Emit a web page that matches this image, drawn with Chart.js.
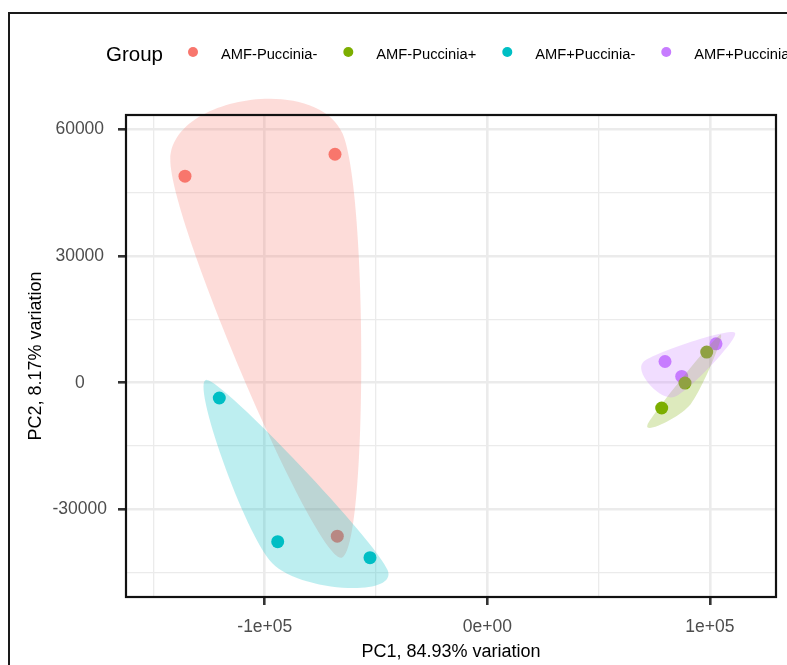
<!DOCTYPE html>
<html>
<head>
<meta charset="utf-8">
<script src="https://cdn.jsdelivr.net/npm/chart.js@4.4.1/dist/chart.umd.min.js"></script>
<style>
  html, body { margin: 0; padding: 0; background: #ffffff; overflow: hidden; }
  #wrap { position: relative; width: 787px; height: 665px; }
  #pca { position: absolute; left: 0; top: 0; }
  #frame { position: absolute; left: 8px; top: 12px; width: 900px; height: 800px;
           border-left: 2px solid #1a1a1a; border-top: 2px solid #1a1a1a; pointer-events: none; }
</style>
</head>
<body>
<div id="wrap">
  <canvas id="pca" width="787" height="665"></canvas>
  <div id="frame"></div>
</div>
<script>
// Groups and their colours
const groups = ['AMF-Puccinia-', 'AMF-Puccinia+', 'AMF+Puccinia-', 'AMF+Puccinia+'];
const groupColors = ['#F8766D', '#7CAE00', '#00BFC4', '#C77CFF'];
const legendTitle = 'Group';

// PCA scores per group (PC1, PC2)
const pc1AmfMinusPucMinus = [-135870, -68450, -67420];
const pc2AmfMinusPucMinus = [48900, 54090, -36310];

const pc1AmfMinusPucPlus = [78380, 88850, 98610];
const pc2AmfMinusPucPlus = [-5980, -70, 7250];

const pc1AmfPlusPucMinus = [-120450, -94200, -52720];
const pc2AmfPlusPucMinus = [-3610, -37630, -41410];

const pc1AmfPlusPucPlus = [79870, 87370, 102790];
const pc2AmfPlusPucPlus = [5030, 1490, 9210];

// Axis titles, ranges and ticks
const xTitle = 'PC1, 84.93% variation';
const yTitle = 'PC2, 8.17% variation';
const xRange = [-162380, 129750];
const yRange = [-50720, 63380];
const xMajorTicks = [-100000, 0, 100000];
const xTickLabels = ['-1e+05', '0e+00', '1e+05'];
const xMinorTicks = [-150000, -50000, 50000];
const yMajorTicks = [-30000, 0, 30000, 60000];
const yTickLabels = ['-30000', '0', '30000', '60000'];
const yMinorTicks = [-45000, -15000, 15000, 45000];

const pc1Series = [pc1AmfMinusPucMinus, pc1AmfMinusPucPlus, pc1AmfPlusPucMinus, pc1AmfPlusPucPlus];
const pc2Series = [pc2AmfMinusPucMinus, pc2AmfMinusPucPlus, pc2AmfPlusPucMinus, pc2AmfPlusPucPlus];

const FONT = "'Liberation Sans', Arial, Helvetica, sans-serif";

function hexToRgba(hex, a) {
  const n = parseInt(hex.slice(1), 16);
  return `rgba(${(n >> 16) & 255},${(n >> 8) & 255},${n & 255},${a})`;
}

const datasets = groups.map((g, i) => ({
  label: g,
  data: pc1Series[i].map((x, j) => ({ x: x, y: pc2Series[i][j] })),
  backgroundColor: groupColors[i],
  borderWidth: 0,
  pointRadius: 6.5,
  pointHoverRadius: 6.5
}));

// Convex hull (monotone chain) of pixel points
function convexHull(pts) {
  const p = pts.slice().sort((a, b) => a.x - b.x || a.y - b.y);
  if (p.length < 3) return p;
  const cross = (o, a, b) => (a.x - o.x) * (b.y - o.y) - (a.y - o.y) * (b.x - o.x);
  const lower = [];
  for (const q of p) {
    while (lower.length >= 2 && cross(lower[lower.length - 2], lower[lower.length - 1], q) <= 0) lower.pop();
    lower.push(q);
  }
  const upper = [];
  for (let i = p.length - 1; i >= 0; i--) {
    const q = p[i];
    while (upper.length >= 2 && cross(upper[upper.length - 2], upper[upper.length - 1], q) <= 0) upper.pop();
    upper.push(q);
  }
  upper.pop(); lower.pop();
  return lower.concat(upper);
}

// Smoothed, expanded outline around each group's points, then the panel border
const encirclePlugin = {
  id: 'encircle',
  afterDatasetsDraw(chart) {
    const ctx = chart.ctx;
    const expand = 22;     // px pushed outward from the group centre
    const k = 0.15;        // spline handle factor
    chart.data.datasets.forEach((ds, i) => {
      const meta = chart.getDatasetMeta(i);
      const pts = meta.data.map(el => ({ x: el.x, y: el.y }));
      const cx = pts.reduce((s, p) => s + p.x, 0) / pts.length;
      const cy = pts.reduce((s, p) => s + p.y, 0) / pts.length;
      const hull = convexHull(pts).map(p => {
        const dx = p.x - cx, dy = p.y - cy;
        const r = Math.hypot(dx, dy) || 1;
        return { x: p.x + expand * dx / r, y: p.y + expand * dy / r };
      });
      const n = hull.length;
      ctx.save();
      ctx.beginPath();
      ctx.moveTo(hull[0].x, hull[0].y);
      for (let j = 0; j < n; j++) {
        const p0 = hull[(j - 1 + n) % n], p1 = hull[j], p2 = hull[(j + 1) % n], p3 = hull[(j + 2) % n];
        ctx.bezierCurveTo(
          p1.x + k * (p2.x - p0.x), p1.y + k * (p2.y - p0.y),
          p2.x - k * (p3.x - p1.x), p2.y - k * (p3.y - p1.y),
          p2.x, p2.y);
      }
      ctx.closePath();
      ctx.fillStyle = hexToRgba(groupColors[i], 0.26);
      ctx.fill();
      ctx.restore();
    });
    const a = chart.chartArea;
    ctx.save();
    ctx.strokeStyle = '#111111';
    ctx.lineWidth = 2.2;
    ctx.strokeRect(a.left, a.top, a.right - a.left, a.bottom - a.top);
    ctx.restore();
  },
  afterDraw(chart) {
    const ctx = chart.ctx;
    ctx.save();
    ctx.fillStyle = '#000000';
    ctx.textBaseline = 'alphabetic';
    ctx.font = `20.5px ${FONT}`;
    ctx.fillText(legendTitle, 106, 61);
    let x = 193;
    ctx.font = `14.7px ${FONT}`;
    chart.data.datasets.forEach(ds => {
      ctx.beginPath();
      ctx.arc(x, 52, 5, 0, Math.PI * 2);
      ctx.fillStyle = ds.backgroundColor;
      ctx.fill();
      ctx.fillStyle = '#000000';
      ctx.fillText(ds.label, x + 28, 59);
      x += 28 + ctx.measureText(ds.label).width + 31;
    });
    ctx.restore();
  }
};

function gridFor(majors) {
  return {
    color: '#EBEBEB',
    lineWidth: c => (c.tick && majors.includes(c.tick.value)) ? 2.6 : 1.3,
    drawTicks: true,
    tickLength: 8,
    tickWidth: 2.6,
    tickColor: c => (c.tick && majors.includes(c.tick.value)) ? '#333333' : 'rgba(0,0,0,0)'
  };
}

new Chart(document.getElementById('pca'), {
  type: 'scatter',
  data: { datasets: datasets },
  options: {
    responsive: false,
    animation: false,
    devicePixelRatio: 1,
    layout: { padding: { top: 115, right: 11, left: 0, bottom: 0 } },
    plugins: { legend: { display: false }, tooltip: { enabled: false } },
    scales: {
      x: {
        type: 'linear',
        min: xRange[0],
        max: xRange[1],
        afterBuildTicks: s => { s.ticks = xMajorTicks.concat(xMinorTicks).sort((a, b) => a - b).map(v => ({ value: v })); },
        afterFit: s => { s.height = 68; },
        grid: gridFor(xMajorTicks),
        border: { display: false },
        ticks: {
          autoSkip: false,
          maxRotation: 0,
          padding: 12,
          color: '#4D4D4D',
          font: { family: FONT, size: 17.5 },
          callback: v => { const i = xMajorTicks.indexOf(v); return i >= 0 ? xTickLabels[i] : ''; }
        },
        title: {
          display: true,
          text: xTitle,
          color: '#000000',
          font: { family: FONT, size: 18, lineHeight: 1.2 },
          padding: { top: 0, bottom: 2 }
        }
      },
      y: {
        type: 'linear',
        min: yRange[0],
        max: yRange[1],
        afterBuildTicks: s => { s.ticks = yMajorTicks.concat(yMinorTicks).sort((a, b) => a - b).map(v => ({ value: v })); },
        afterFit: s => { s.width = 126; },
        grid: gridFor(yMajorTicks),
        border: { display: false },
        ticks: {
          autoSkip: false,
          crossAlign: 'center',
          padding: 11,
          color: '#4D4D4D',
          font: { family: FONT, size: 17.5 },
          callback: v => { const i = yMajorTicks.indexOf(v); return i >= 0 ? yTickLabels[i] : ''; }
        },
        title: {
          display: true,
          text: yTitle,
          color: '#000000',
          font: { family: FONT, size: 18, lineHeight: 1.2 },
          padding: { top: 25, bottom: 0 }
        }
      }
    }
  },
  plugins: [encirclePlugin]
});
</script>
</body>
</html>
